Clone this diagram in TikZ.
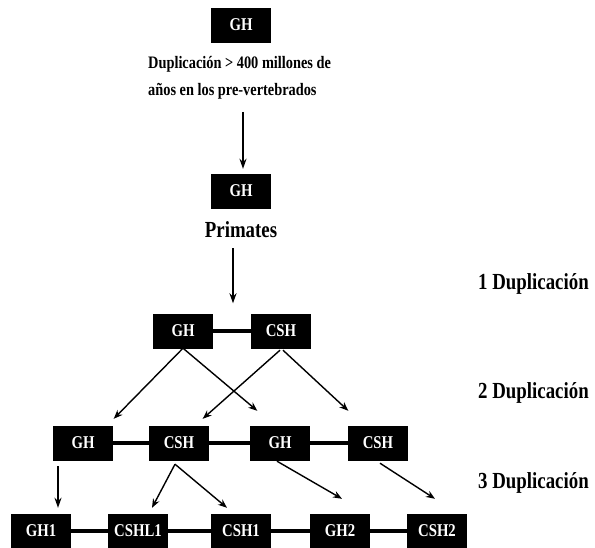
\documentclass[tikz,border=0pt]{standalone}
\usepackage{fontspec}
\setmainfont{Liberation Serif}
\newfontfamily\condfont[FakeStretch=0.82]{Liberation Serif}
\usetikzlibrary{arrows.meta,calc}
\begin{document}
\begin{tikzpicture}[x=1pt,y=-1pt,
  gene/.style={fill=black,draw=black,minimum width=59pt,minimum height=34pt,inner sep=0pt,
    text=white,font=\condfont\bfseries\fontsize{18}{18}\selectfont},
  lbl/.style={font=\condfont\bfseries\fontsize{17.5}{26}\selectfont,inner sep=0pt},
  dup/.style={font=\condfont\bfseries\fontsize{23}{26}\selectfont,inner sep=0pt,anchor=west},
  arr/.style={line width=1.4pt,-{Stealth[length=9pt,width=7pt]}},
  varr/.style={line width=1.8pt,-{Stealth[length=10pt,width=7pt]}},
  link/.style={line width=3.5pt}]
\useasboundingbox (0,0) rectangle (595,548);
% top
\node[gene] (g0) at (241,25) {GH};
\node[lbl,anchor=west] (t0) at (148,64) {Duplicación > 400 millones de};
\node[lbl,anchor=west] (t1) at (148,91) {años en los pre-vertebrados};
\node[gene] (g1) at (241,191) {GH};
\node[lbl,font=\condfont\bfseries\fontsize{23}{26}\selectfont] (prim) at (241,230) {Primates};
\draw[varr] (243,112) coordinate (a0) -- ($(g1.north -| a0)+(0,-5)$);
\draw[varr] ($(prim.south)+(-8,10)$) -- ($(prim.south)+(-8,65)$) coordinate (a1);
% level 1
\node[gene] (h1) at (183,331) {GH};
\node[gene] (c1) at (281,331) {CSH};
\draw[link] (h1) -- (c1);
% level 2
\node[gene] (b1) at (83,443) {GH};
\node[gene] (b2) at (179,443) {CSH};
\node[gene] (b3) at (280,443) {GH};
\node[gene] (b4) at (378,443) {CSH};
\draw[link] (b1) -- (b2);
\draw[link] (b2) -- (b3);
\draw[link] (b3) -- (b4);
% level 3
\node[gene] (d1) at (41,531) {GH1};
\node[gene] (d2) at (138,531) {CSHL1};
\node[gene] (d3) at (241,531) {CSH1};
\node[gene] (d4) at (340,531) {GH2};
\node[gene] (d5) at (437,531) {CSH2};
\draw[link] (d1) -- (d2);
\draw[link] (d2) -- (d3);
\draw[link] (d3) -- (d4);
\draw[link] (d4) -- (d5);
% arrows 1 -> 2
\draw[arr] (h1.south) -- ($(b1.north east)+(1,-7)$);
\draw[arr] (h1.south) -- ($(b3.north west)+(7,-15)$);
\draw[arr] ($(c1.south)+(-1,2)$) -- ($(b2.north east)+(-6,-7)$);
\draw[arr] ($(c1.south)+(2,2)$) -- ($(b4.north west)+(0,-15)$);
% arrows 2 -> 3
\draw[varr] ($(b1.south)+(-25,6)$) -- ($(d1.north)+(17,-6)$);
\draw[arr] ($(b2.south)+(-4,4)$) -- ($(d2.north)+(14,-6)$);
\draw[arr] ($(b2.south)+(-4,4)$) -- ($(d3.north)+(-14,-6)$);
\draw[arr] ($(b3.south)+(-3,1)$) -- ($(d4.north)+(2,-15)$);
\draw[arr] ($(b4.south)+(2,3)$) -- ($(d5.north)+(-2,-15)$);
% right labels
\node[dup] (l1) at (478,284) {1 Duplicación};
\node[dup] (l2) at (478,393) {2 Duplicación};
\node[dup] (l3) at (478,483) {3 Duplicación};
\end{tikzpicture}
\end{document}
